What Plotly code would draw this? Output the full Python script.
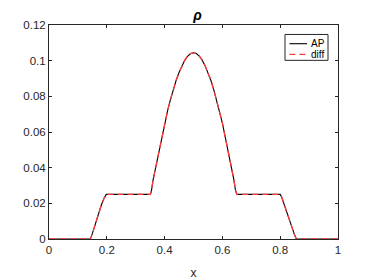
import plotly.graph_objects as go

x_vals = [0.0, 0.05, 0.1, 0.143, 0.15, 0.16, 0.17, 0.18, 0.19, 0.195, 0.198, 0.25, 0.3,
          0.35, 0.3525, 0.355, 0.36, 0.37, 0.38, 0.39, 0.40, 0.41, 0.42, 0.43, 0.44, 0.45,
          0.46, 0.47, 0.48, 0.49, 0.50, 0.51, 0.52, 0.53, 0.54, 0.55, 0.56, 0.57, 0.58, 0.59,
          0.60, 0.61, 0.62, 0.63, 0.64, 0.645, 0.6475, 0.65, 0.7, 0.75, 0.8, 0.805, 0.81, 0.82,
          0.83, 0.84, 0.85, 0.856, 0.9, 0.95, 1.0]
ap_vals = [0.0, 0.0, 0.0, 0.0, 0.003, 0.0085, 0.0138, 0.0185, 0.0227, 0.0242, 0.025, 0.025, 0.025,
           0.025, 0.0258, 0.0275, 0.033, 0.041, 0.0492, 0.057, 0.065, 0.0717, 0.078, 0.0838, 0.089, 0.0934,
           0.0972, 0.1003, 0.1026, 0.104, 0.1044, 0.104, 0.1026, 0.1003, 0.0972, 0.0934, 0.089, 0.0838, 0.078, 0.0717,
           0.065, 0.057, 0.0492, 0.041, 0.033, 0.0275, 0.0258, 0.025, 0.025, 0.025, 0.025, 0.0235, 0.021, 0.0165,
           0.0113, 0.0065, 0.0022, 0.0, 0.0, 0.0, 0.0]
diff_vals = list(ap_vals)

series_names = ["AP", "diff"]
x_ticks = [0, 0.2, 0.4, 0.6, 0.8, 1]
x_tick_text = ["0", "0.2", "0.4", "0.6", "0.8", "1"]
y_ticks = [0, 0.02, 0.04, 0.06, 0.08, 0.1, 0.12]
y_tick_text = ["0", "0.02", "0.04", "0.06", "0.08", "0.1", "0.12"]

FONT = "Liberation Sans, Arial, Helvetica"
AXC = "#262626"
RED = "#ff3b3b"

fig = go.Figure()
fig.add_trace(go.Scatter(x=x_vals, y=ap_vals, mode="lines", name=series_names[0],
                         line=dict(color="black", width=1.1)))
fig.add_trace(go.Scatter(x=x_vals, y=diff_vals, mode="lines", name=series_names[1],
                         line=dict(color=RED, width=1.3, dash="6px,4px")))

axis_common = dict(showgrid=False, zeroline=False, showline=True, linecolor=AXC, linewidth=1,
                   mirror="ticks", ticks="inside", ticklen=3, tickcolor=AXC, automargin=False,
                   tickfont=dict(family=FONT, size=11.5, color=AXC))
fig.update_xaxes(range=[0, 1], tickvals=x_ticks, ticktext=x_tick_text,
                 title=dict(text="x", font=dict(family=FONT, size=12, color=AXC), standoff=15),
                 **axis_common)
fig.update_yaxes(range=[0, 0.12], tickvals=y_ticks, ticktext=y_tick_text, **axis_common)

# custom compact legend (MATLAB style)
bx0, bx1, by0, by1 = 0.8166, 0.9654, 0.8349, 0.9558
fig.add_shape(type="rect", xref="paper", yref="paper", x0=bx0, x1=bx1, y0=by0, y1=by1,
              line=dict(color=AXC, width=1), fillcolor="white", layer="above")
leg_rows = [0.9126, 0.8628]
leg_styles = [dict(color="black", width=1.1), dict(color=RED, width=1.3, dash="6px,4px")]
for name, yy, st in zip(series_names, leg_rows, leg_styles):
    fig.add_shape(type="line", xref="paper", yref="paper", x0=0.832, x1=0.8927, y0=yy, y1=yy,
                  line=st, layer="above")
    fig.add_annotation(text=name, xref="paper", yref="paper", x=0.8980, y=yy, xanchor="left",
                       yanchor="middle", showarrow=False,
                       font=dict(family=FONT, size=10, color="black"))

fig.update_layout(
    width=366, height=272,
    margin=dict(l=41, r=36, t=16.5, b=40.5),
    paper_bgcolor="white", plot_bgcolor="white",
    title=dict(text="<b><i>ρ</i></b>", x=0.5175, xanchor="center", y=0.974, yanchor="middle",
               font=dict(family=FONT, size=14, color="black")),
    showlegend=False,
)

fig.write_html("out.html", config={"displayModeBar": False})
